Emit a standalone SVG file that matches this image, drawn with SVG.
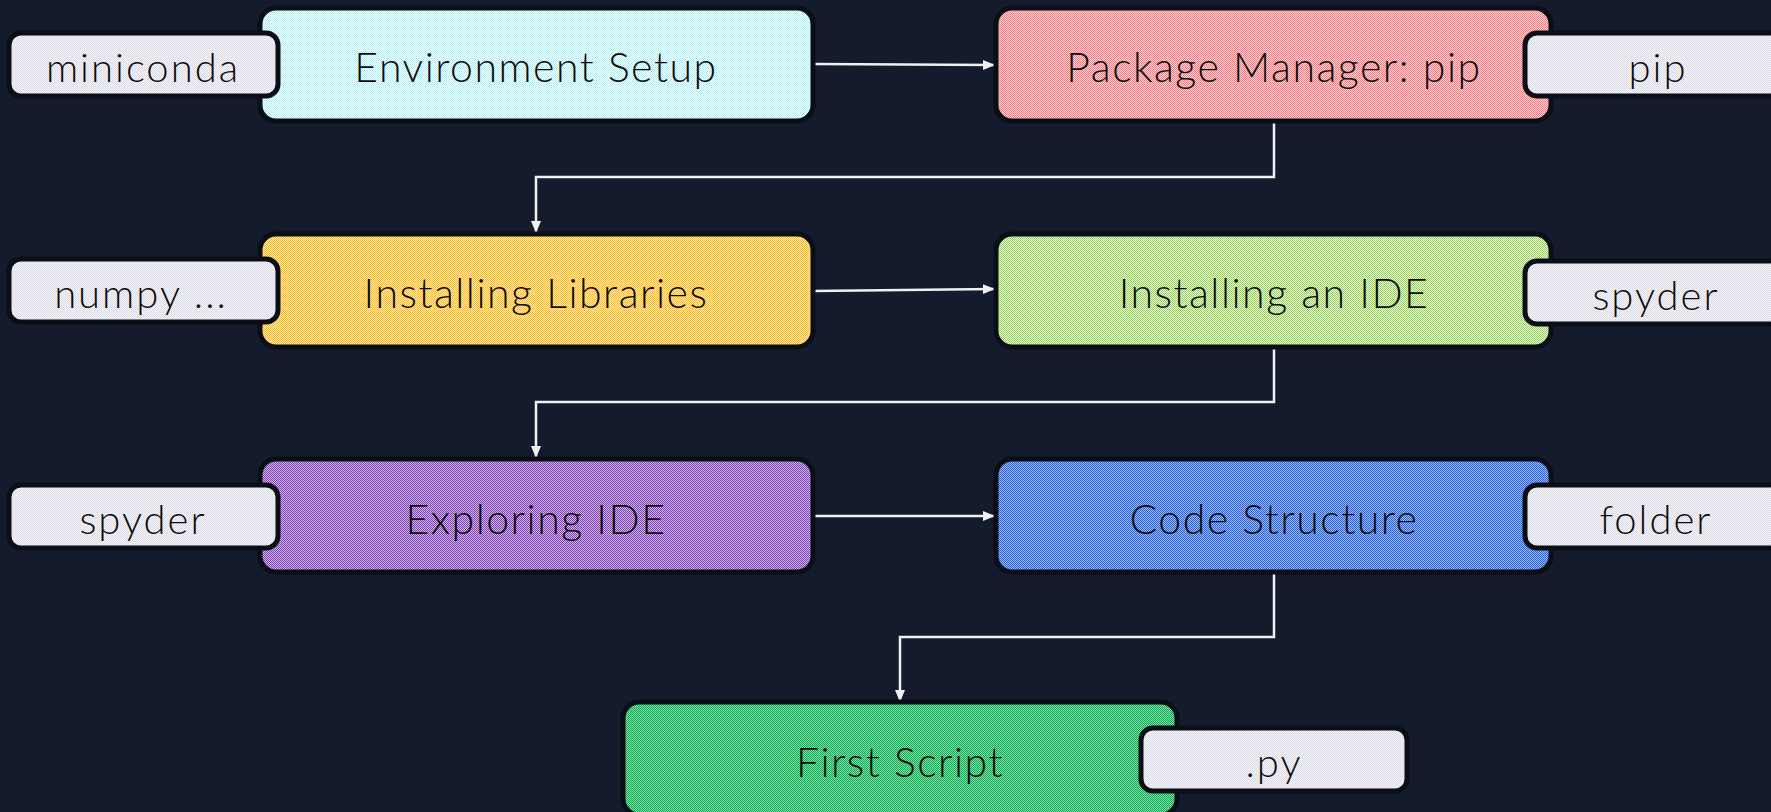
<svg xmlns="http://www.w3.org/2000/svg" width="1771" height="812" viewBox="0 0 1771 812">
<defs>
<pattern id="pCyan" width="2" height="2" patternUnits="userSpaceOnUse"><rect width="2" height="2" fill="#ffffff"/><rect width="1" height="1" fill="#a6eef2"/><rect x="1" y="1" width="1" height="1" fill="#a6eef2"/></pattern>
<pattern id="pRed" width="2" height="2" patternUnits="userSpaceOnUse"><rect width="2" height="2" fill="#fad0d2"/><rect width="1" height="1" fill="#f27e86"/><rect x="1" y="1" width="1" height="1" fill="#f27e86"/></pattern>
<pattern id="pYellow" width="2" height="2" patternUnits="userSpaceOnUse"><rect width="2" height="2" fill="#feecb8"/><rect width="1" height="1" fill="#fbbb1e"/><rect x="1" y="1" width="1" height="1" fill="#fbbb1e"/></pattern>
<pattern id="pLime" width="2" height="2" patternUnits="userSpaceOnUse"><rect width="2" height="2" fill="#f0f9e6"/><rect width="1" height="1" fill="#92d24e"/><rect x="1" y="1" width="1" height="1" fill="#92d24e"/></pattern>
<pattern id="pPurple" width="2" height="2" patternUnits="userSpaceOnUse"><rect width="2" height="2" fill="#d4b8ee"/><rect width="1" height="1" fill="#7a3db0"/><rect x="1" y="1" width="1" height="1" fill="#7a3db0"/></pattern>
<pattern id="pBlue" width="2" height="2" patternUnits="userSpaceOnUse"><rect width="2" height="2" fill="#9ab8f2"/><rect width="1" height="1" fill="#2a62dc"/><rect x="1" y="1" width="1" height="1" fill="#2a62dc"/></pattern>
<pattern id="pGreen" width="2" height="2" patternUnits="userSpaceOnUse"><rect width="2" height="2" fill="#7ae2a8"/><rect width="1" height="1" fill="#14a852"/><rect x="1" y="1" width="1" height="1" fill="#14a852"/></pattern>
<pattern id="pGrey" width="2" height="2" patternUnits="userSpaceOnUse"><rect width="2" height="2" fill="#f4f4f8"/><rect width="1" height="1" fill="#dcdce6"/><rect x="1" y="1" width="1" height="1" fill="#dcdce6"/></pattern>
<marker id="arr" viewBox="0 0 12 12" refX="11" refY="6" markerWidth="12" markerHeight="12" markerUnits="userSpaceOnUse" orient="auto"><path d="M0,1 L12,6 L0,11 Z" fill="#f0f0f0"/></marker>
<style>
.node{stroke:#0a0e16;stroke-width:5}
.tag{stroke:#0a0e16;stroke-width:5}
.lbl{font-family:Lato,"Liberation Sans",sans-serif;font-weight:300;font-size:41px;letter-spacing:1.5px;fill:#0d0d0d;text-anchor:middle;dominant-baseline:central}
.tlbl{font-family:Lato,"Liberation Sans",sans-serif;font-weight:300;font-size:40px;letter-spacing:2px;fill:#0d0d0d;text-anchor:middle;dominant-baseline:central}
.edge{fill:none;stroke:#f0f0f0;stroke-width:2.5;marker-end:url(#arr)}
</style>
</defs>
<rect width="1771" height="812" fill="#131b2c"/>
<g id="connectors">
<path class="edge" d="M813,64 L994,65"/>
<path class="edge" d="M1274,121 L1274,177 L536,177 L536,232"/>
<path class="edge" d="M813,291 L994,289"/>
<path class="edge" d="M1274,347 L1274,402 L536,402 L536,457"/>
<path class="edge" d="M813,516 L994,516"/>
<path class="edge" d="M1274,573 L1274,637 L900,637 L900,701"/>
</g>
<g id="env">
<rect class="node" x="260" y="8" width="553" height="113" rx="16" fill="url(#pCyan)"/>
<text class="lbl" x="536" y="66">Environment Setup</text>
</g>
<g id="env-tag">
<rect class="tag" x="9" y="33" width="269" height="63" rx="12" fill="url(#pGrey)"/>
<text class="tlbl" x="143" y="67">miniconda</text>
</g>
<g id="pkg">
<rect class="node" x="996" y="8" width="555" height="113" rx="16" fill="url(#pRed)"/>
<text class="lbl" x="1274" y="66">Package Manager: pip</text>
</g>
<g id="pkg-tag">
<rect class="tag" x="1525" y="33" width="269" height="63" rx="12" fill="url(#pGrey)"/>
<text class="tlbl" x="1658" y="67">pip</text>
</g>
<g id="libs">
<rect class="node" x="260" y="234" width="553" height="113" rx="16" fill="url(#pYellow)"/>
<text class="lbl" x="536" y="292">Installing Libraries</text>
</g>
<g id="libs-tag">
<rect class="tag" x="9" y="259" width="269" height="63" rx="12" fill="url(#pGrey)"/>
<text class="tlbl" x="141" y="293">numpy ...</text>
</g>
<g id="ide">
<rect class="node" x="996" y="234" width="555" height="113" rx="16" fill="url(#pLime)"/>
<text class="lbl" x="1274" y="292">Installing an IDE</text>
</g>
<g id="ide-tag">
<rect class="tag" x="1525" y="261" width="269" height="63" rx="12" fill="url(#pGrey)"/>
<text class="tlbl" x="1656" y="295">spyder</text>
</g>
<g id="explore">
<rect class="node" x="260" y="459" width="553" height="113" rx="16" fill="url(#pPurple)"/>
<text class="lbl" x="536" y="518">Exploring IDE</text>
</g>
<g id="explore-tag">
<rect class="tag" x="9" y="485" width="269" height="63" rx="12" fill="url(#pGrey)"/>
<text class="tlbl" x="143" y="519">spyder</text>
</g>
<g id="code">
<rect class="node" x="996" y="459" width="555" height="113" rx="16" fill="url(#pBlue)"/>
<text class="lbl" x="1274" y="518">Code Structure</text>
</g>
<g id="code-tag">
<rect class="tag" x="1525" y="485" width="269" height="63" rx="12" fill="url(#pGrey)"/>
<text class="tlbl" x="1656" y="519">folder</text>
</g>
<g id="first">
<rect class="node" x="623" y="702" width="554" height="113" rx="16" fill="url(#pGreen)"/>
<text class="lbl" x="900" y="761">First Script</text>
</g>
<g id="first-tag">
<rect class="tag" x="1141" y="728" width="266" height="63" rx="12" fill="url(#pGrey)"/>
<text class="tlbl" x="1274" y="762">.py</text>
</g>
</svg>
